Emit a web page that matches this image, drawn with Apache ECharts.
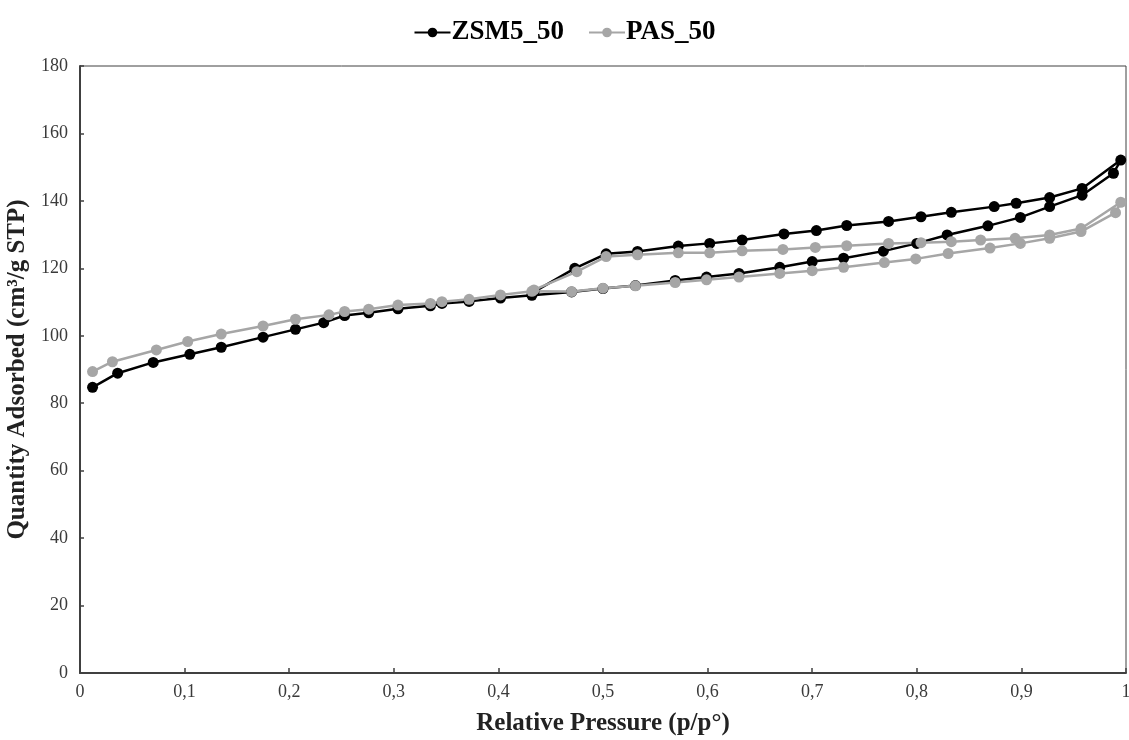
<!DOCTYPE html>
<html>
<head>
<meta charset="utf-8">
<script src="https://cdn.jsdelivr.net/npm/echarts@6/dist/echarts.min.js"></script>
<style>
  html, body { margin: 0; padding: 0; background: #fff; }
  #chart { width: 1129px; height: 740px; }
</style>
</head>
<body>
<div id="chart"></div>
<script>
// isotherme : adsorption puis désorption, [p/p°, quantité]
const zsm5 = [
    [0.012, 84.7], [0.036, 88.9], [0.070, 92.1], [0.105, 94.5], [0.135, 96.6],
    [0.175, 99.6], [0.206, 101.9], [0.233, 103.9], [0.253, 106.0], [0.276, 106.8],
    [0.304, 108.0], [0.335, 108.9], [0.346, 109.6], [0.372, 110.2], [0.402, 111.2],
    [0.432, 112.0], [0.470, 113.0], [0.500, 114.0], [0.531, 114.9], [0.569, 116.4],
    [0.599, 117.4], [0.630, 118.5], [0.669, 120.3], [0.700, 122.0], [0.730, 123.0],
    [0.768, 125.1], [0.800, 127.4], [0.829, 129.9], [0.868, 132.6], [0.899, 135.1],
    [0.927, 138.3], [0.958, 141.7], [0.988, 148.2], [0.995, 152.1],
    [0.958, 143.7], [0.927, 141.0], [0.895, 139.3], [0.874, 138.3], [0.833, 136.6],
    [0.804, 135.3], [0.773, 133.9], [0.733, 132.7], [0.704, 131.2], [0.673, 130.2],
    [0.633, 128.4], [0.602, 127.4], [0.572, 126.6], [0.533, 125.0], [0.503, 124.3],
    [0.473, 120.0], [0.434, 113.0]
];

const pas = [
    [0.012, 89.4], [0.031, 92.3], [0.073, 95.8], [0.103, 98.3], [0.135, 100.5],
    [0.175, 102.9], [0.206, 104.9], [0.238, 106.2], [0.253, 107.2], [0.276, 107.9],
    [0.304, 109.1], [0.335, 109.6], [0.346, 110.1], [0.372, 110.8], [0.402, 112.1],
    [0.432, 113.2], [0.470, 113.1], [0.500, 114.1], [0.531, 114.8], [0.569, 115.8],
    [0.599, 116.6], [0.630, 117.4], [0.669, 118.5], [0.700, 119.3], [0.730, 120.3],
    [0.769, 121.7], [0.799, 122.8], [0.830, 124.4], [0.870, 126.0], [0.899, 127.4],
    [0.927, 128.9], [0.957, 130.9], [0.990, 136.5], [0.995, 139.6],
    [0.957, 131.8], [0.927, 129.9], [0.894, 128.9], [0.861, 128.4], [0.833, 127.9],
    [0.804, 127.6], [0.773, 127.4], [0.733, 126.7], [0.703, 126.2], [0.672, 125.6],
    [0.633, 125.2], [0.602, 124.6], [0.572, 124.6], [0.533, 124.0], [0.503, 123.5],
    [0.475, 119.0], [0.434, 113.6]
];

const seriesNames = ['ZSM5_50', 'PAS_50'];

const FONT = 'Liberation Serif';
const AXIS_COLOR = '#404040';

const option = {
    animation: false,
    color: ['#000000', '#a6a6a6'],
    legend: {
        data: seriesNames,
        top: 14,
        left: 'center',
        itemWidth: 36,
        itemHeight: 12,
        itemGap: 24,
        textStyle: {
            fontFamily: FONT,
            fontSize: 27,
            fontWeight: 'bold',
            color: '#000',
            padding: [0, 0, 0, -4]
        }
    },
    grid: {
        left: 80,
        right: 3,
        top: 66,
        bottom: 67,
        outerBoundsMode: 'none',
        show: true,
        borderColor: AXIS_COLOR,
        borderWidth: 1
    },
    xAxis: {
        type: 'value',
        min: 0,
        max: 1,
        interval: 0.1,
        name: 'Relative Pressure (p/p°)',
        nameLocation: 'middle',
        nameGap: 38,
        nameTextStyle: {
            fontFamily: FONT,
            fontSize: 25,
            fontWeight: 'bold',
            color: '#222'
        },
        axisLine: { lineStyle: { color: AXIS_COLOR, width: 2 } },
        axisTick: { inside: true, length: 5, lineStyle: { color: AXIS_COLOR, width: 1.5 } },
        splitLine: { show: false },
        axisLabel: {
            fontFamily: FONT,
            fontSize: 18,
            color: '#3a3a3a',
            margin: 10,
            formatter: function (v) {
                return String(Math.round(v * 10) / 10).replace('.', ',');
            }
        }
    },
    yAxis: {
        type: 'value',
        min: 0,
        max: 180,
        interval: 20,
        name: 'Quantity Adsorbed (cm³/g STP)',
        nameLocation: 'middle',
        nameGap: 46,
        nameTextStyle: {
            fontFamily: FONT,
            fontSize: 25,
            fontWeight: 'bold',
            color: '#222'
        },
        axisLine: { show: true, lineStyle: { color: AXIS_COLOR, width: 2 } },
        axisTick: { show: true, inside: true, length: 4, lineStyle: { color: AXIS_COLOR, width: 1.5 } },
        splitLine: { show: false },
        axisLabel: {
            fontFamily: FONT,
            fontSize: 18,
            color: '#3a3a3a',
            margin: 12
        }
    },
    series: [
        {
            name: seriesNames[0],
            type: 'line',
            data: zsm5,
            symbol: 'circle',
            symbolSize: 11,
            lineStyle: { width: 2.5, color: '#000' },
            itemStyle: { color: '#000' }
        },
        {
            name: seriesNames[1],
            type: 'line',
            data: pas,
            symbol: 'circle',
            symbolSize: 11,
            lineStyle: { width: 2.5, color: '#a6a6a6' },
            itemStyle: { color: '#a6a6a6' }
        }
    ]
};

const chart = echarts.init(document.getElementById('chart'));
chart.setOption(option);
</script>
</body>
</html>
